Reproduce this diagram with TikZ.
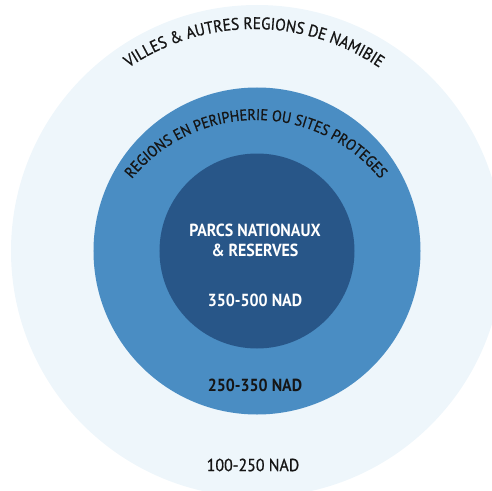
\documentclass[tikz,border=0pt]{standalone}
\usepackage{fontspec}
\setmainfont{PT Sans}
\newfontfamily\narrowfont[FakeStretch=0.91]{PT Sans}
\newfontfamily\medfont[FakeStretch=0.91,FakeBold=0.8]{PT Sans}
\usetikzlibrary{decorations.text}
\definecolor{ringout}{HTML}{EEF6FB}
\definecolor{ringmid}{HTML}{4A8DC3}
\definecolor{ringin}{HTML}{285688}
\definecolor{ink}{HTML}{151515}
\begin{document}
\begin{tikzpicture}[x=1pt,y=1pt,
	price/.style={font=\narrowfont\fontsize{17.5}{20}\selectfont\bfseries,align=center},
	arctext/.style n args={2}{decorate,decoration={text along path,text align=center,text color=ink,
		text={|\medfont\fontsize{#1}{16}\selectfont|#2}}}]
	\useasboundingbox (-257,-239) rectangle (235,251);
	% rings
	\fill[ringout] (0,0) circle (246);
	\fill[ringmid] (0,0) circle (163.5);
	\fill[ringin] (0,0) circle (97.5);
	% curved titles
	\path[arctext={16.8}{VILLES {\&} AUTRES REGIONS DE NAMIBIE}] (-3,0) ++(130:222) arc[start angle=130,end angle=50,radius=222];
	\path[arctext={15.6}{REGIONS EN PERIPHERIE OU SITES PROTEGES}] (-1,-29) ++(145:160) arc[start angle=145,end angle=35,radius=160];
	% labels
	\node[price,white] (parcs) at (-2,11) {PARCS NATIONAUX\\\& RESERVES};
	\node[price,white] (inprice) at (-2,-49) {350-500 NAD};
	\node[price,ink] (midprice) at (-2,-134) {250-350 NAD};
	\node[price,ink,font=\medfont\fontsize{17.5}{20}\selectfont] (outprice) at (-4,-214) {100-250 NAD};
\end{tikzpicture}
\end{document}
